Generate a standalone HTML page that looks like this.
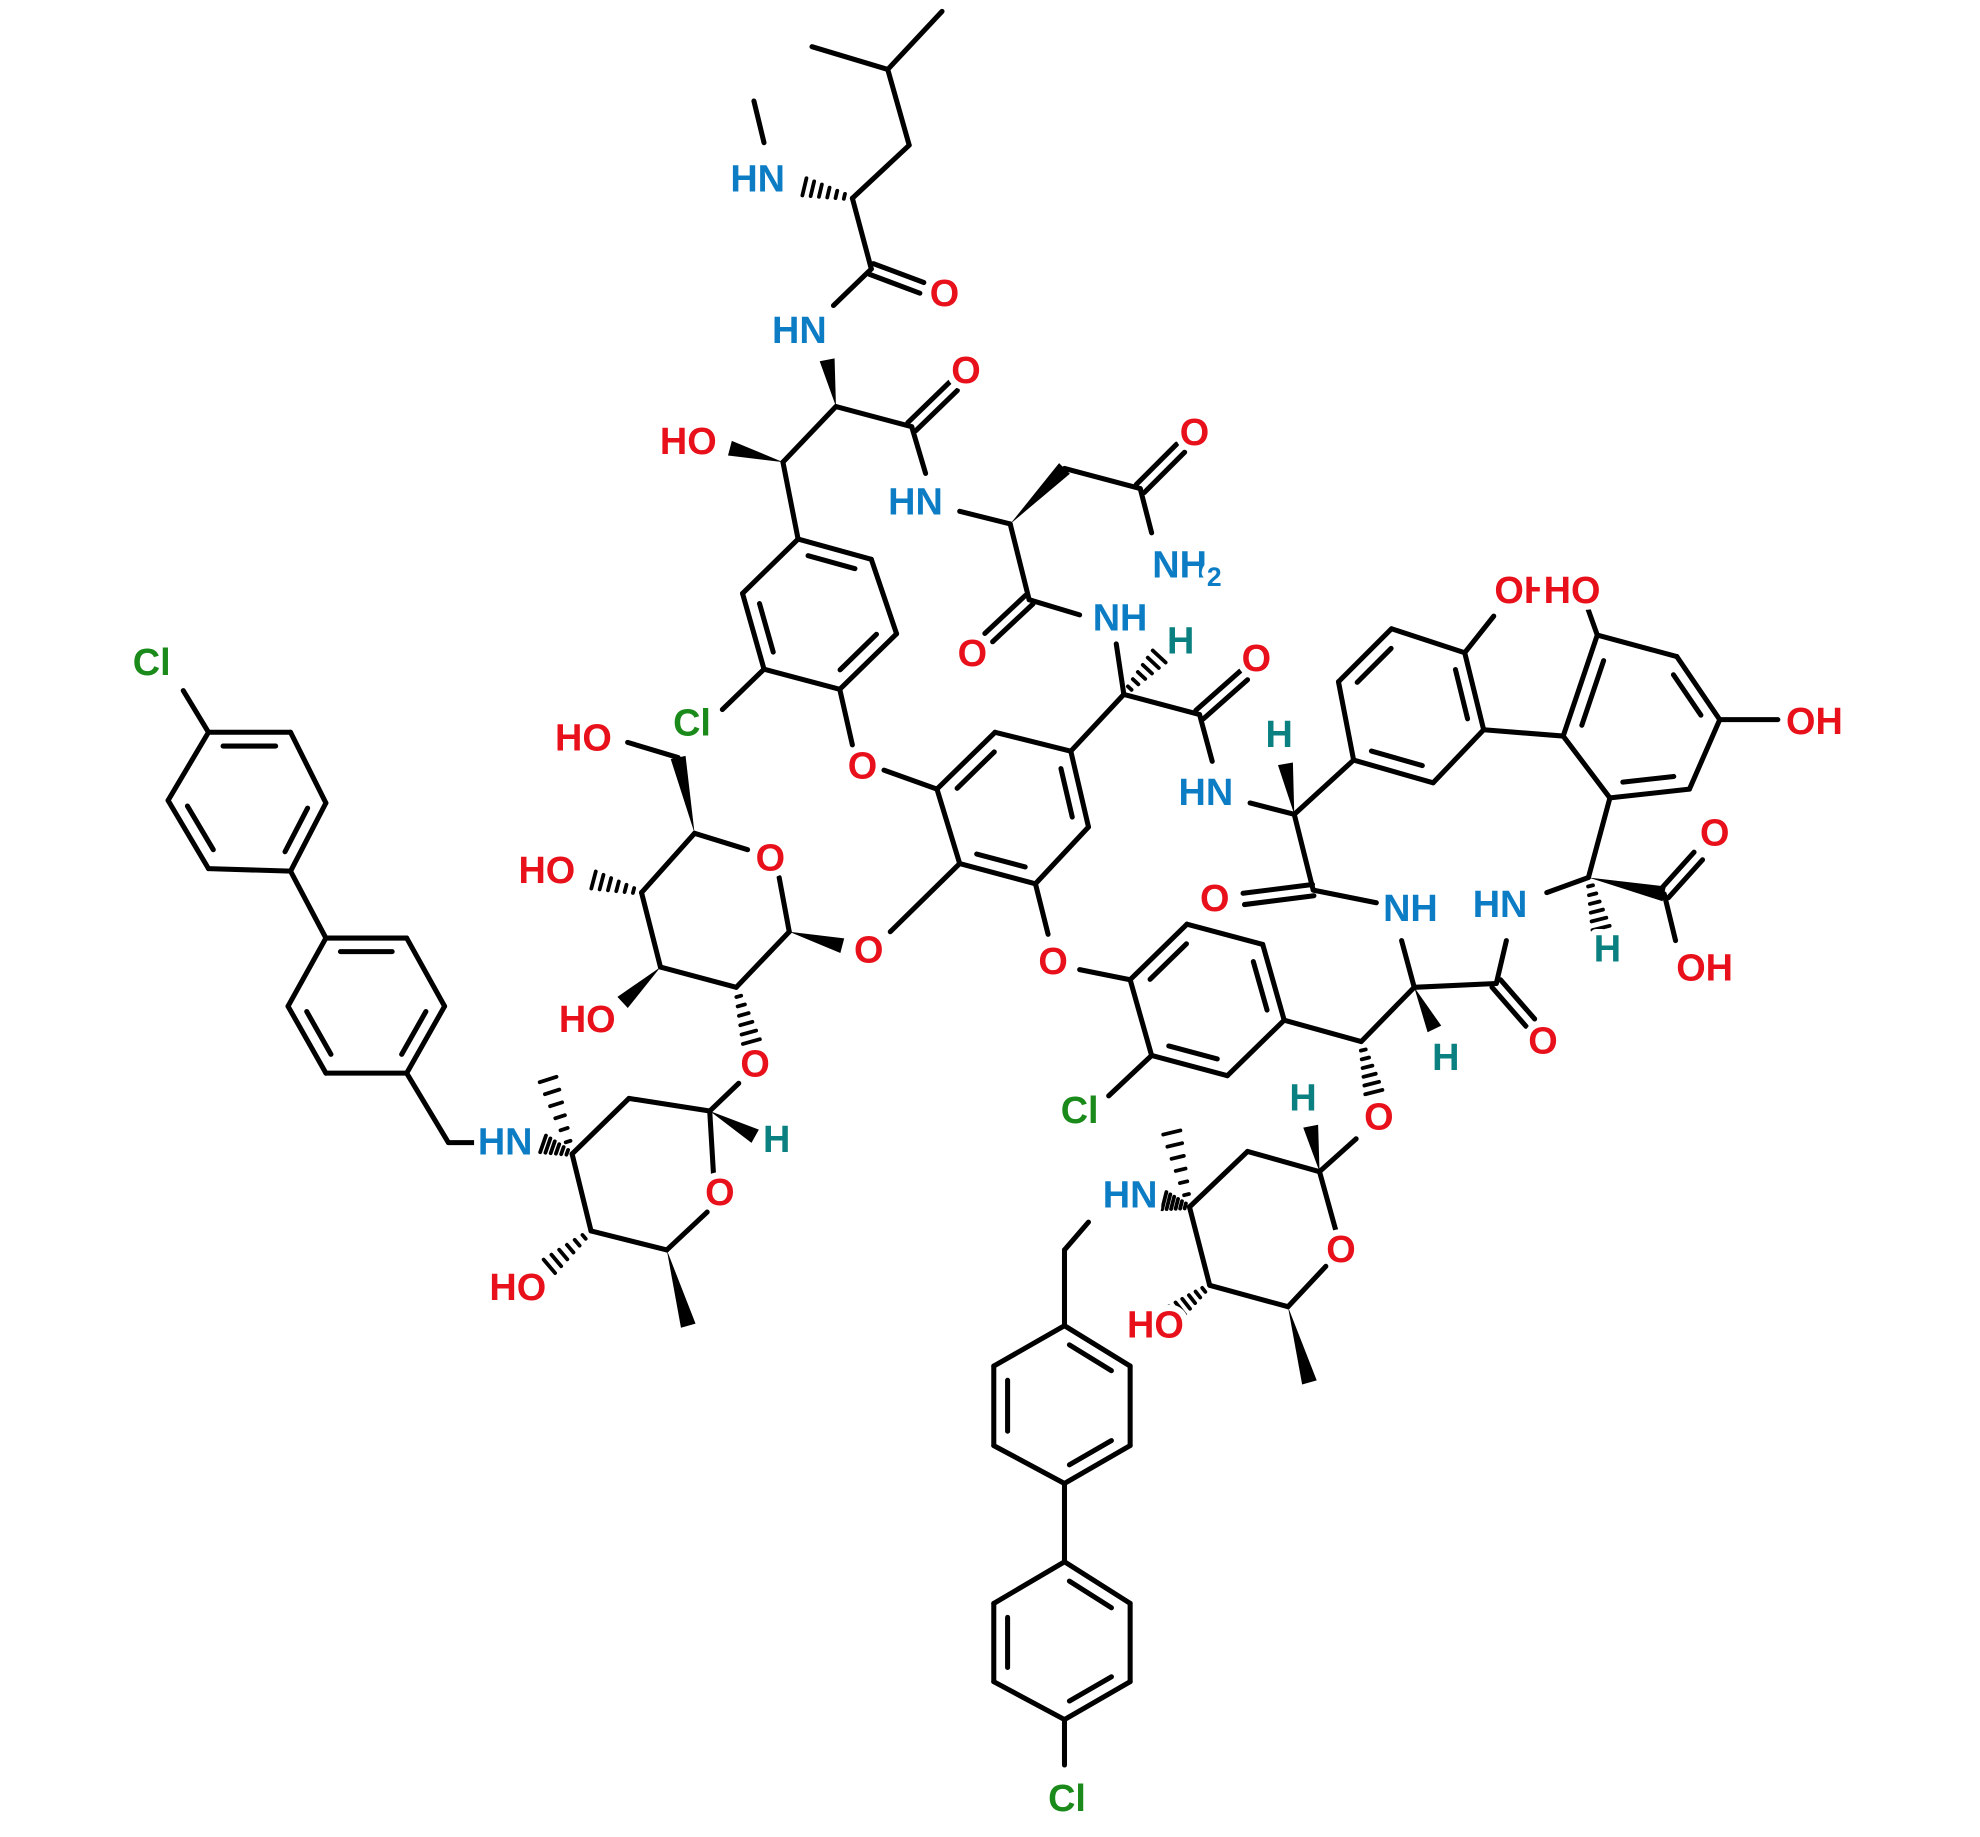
<!DOCTYPE html>
<html><head><meta charset="utf-8">
<style>
html,body{margin:0;padding:0;background:#fff;}
svg{display:block;}
text{font-family:"Liberation Sans",sans-serif;font-weight:bold;font-size:30px;paint-order:stroke;stroke:#fff;stroke-width:10px;stroke-linejoin:round;}
.O{fill:#e8101a}.N{fill:#0c7cc4}.C{fill:#1a8a1a}.H{fill:#0a8080}
</style></head><body>
<svg id="s" width="1980" height="1837" viewBox="0 0 1568 1455" xmlns="http://www.w3.org/2000/svg">
<g id="b" stroke="#000" stroke-width="4" stroke-linecap="round" fill="none"></g>
<g id="w" fill="#000"></g>
<g id="t"></g>
</svg>
<script>
const NS="http://www.w3.org/2000/svg";
const B=document.getElementById('b'),W=document.getElementById('w'),T=document.getElementById('t');
function L(x1,y1,x2,y2,extra){const l=document.createElementNS(NS,'line');l.setAttribute('x1',x1);l.setAttribute('y1',y1);l.setAttribute('x2',x2);l.setAttribute('y2',y2);if(extra)for(const k in extra)l.setAttribute(k,extra[k]);B.appendChild(l);}
function D(x1,y1,x2,y2){
 const dx=x2-x1,dy=y2-y1,len=Math.hypot(dx,dy),nx=-dy/len*4.5,ny=dx/len*4.5;
 L(x1+nx,y1+ny,x2+nx,y2+ny);L(x1-nx,y1-ny,x2-nx,y2-ny);}
function ring(p,dbl){let cx=0,cy=0;p.forEach(q=>{cx+=q[0];cy+=q[1]});cx/=6;cy/=6;
 for(let i=0;i<6;i++){const a=p[i],b=p[(i+1)%6];L(a[0],a[1],b[0],b[1]);
  if(dbl.includes(i)){const f=0.8;let ax=cx+(a[0]-cx)*f,ay=cy+(a[1]-cy)*f,bx=cx+(b[0]-cx)*f,by=cy+(b[1]-cy)*f;
   const mx=(bx-ax)*0.1,my=(by-ay)*0.1;L(ax+mx,ay+my,bx-mx,by-my);}}}
function WB(x1,y1,x2,y2){const dx=x2-x1,dy=y2-y1,len=Math.hypot(dx,dy),nx=-dy/len*6,ny=dx/len*6;
 const p=document.createElementNS(NS,'polygon');p.setAttribute('points',`${x1},${y1} ${x2+nx},${y2+ny} ${x2-nx},${y2-ny}`);W.appendChild(p);}
function WH(x1,y1,x2,y2){const n=6;const dx=x2-x1,dy=y2-y1,len=Math.hypot(dx,dy),ux=-dy/len,uy=dx/len;
 for(let i=1;i<=n;i++){const t=i/n,x=x1+dx*t,y=y1+dy*t,h=1+6*t;L(x+ux*h,y+uy*h,x-ux*h,y-uy*h,{'stroke-width':3});}}
function X(x,y,s,c,sub){const t=document.createElementNS(NS,'text');t.setAttribute('x',x);t.setAttribute('y',y);t.setAttribute('text-anchor','middle');t.setAttribute('dominant-baseline','central');t.setAttribute('class',c);t.textContent=s;
 if(sub){const ts=document.createElementNS(NS,'tspan');ts.setAttribute('font-size','21');ts.setAttribute('dy','9');ts.textContent=sub;t.appendChild(ts);}
 T.appendChild(t);}
// leucine
L(643,37,703,55);L(703,55,746,9);L(703,55,720,115);L(720,115,675,157);
L(597,80,605,113);WH(675,157,637,148);
L(675,157,690,213);D(690,213,730,228);L(690,213,660,242);
WB(662,322,655,285);
L(662,322,722,338);D(722,338,755,306);L(662,322,620,366);WB(620,366,578,355);
L(722,338,733,375);L(760,405,800,415);
WB(800,415,843,371);L(843,371,903,387);D(903,387,935,355);L(903,387,912,422);
L(800,415,815,475);D(815,475,783,505);L(815,475,855,487);
L(884,510,890,550);WH(890,550,918,520);
L(890,550,950,566);D(950,566,985,535);L(950,566,960,603);
L(890,550,848,595);
ring([[848,595],[862,655],[820,700],[760,684],[742,625],[788,580]],[0,2,4]);
L(742,625,700,610);L(675,590,665,546);
L(760,684,705,738);
L(820,700,830,740);L(855,768,895,776);
ring([[632,427],[690,443],[710,502],[665,546],[605,530],[588,470]],[0,2,4]);
L(605,530,572,562);L(632,427,620,366);
// glucose
L(550,660,592,673);L(617,695,625,738);L(625,738,583,782);L(583,782,523,766);L(523,766,508,707);L(508,707,550,660);
WB(550,660,537,600);L(537,600,497,588);WH(508,707,470,697);WB(523,766,493,794);
WB(625,738,667,749);WH(583,782,595,825);
L(585,858,562,880);
// vancosamine 1
L(562,880,498,870);L(498,870,453,914);L(453,914,468,975);L(468,975,528,990);L(528,990,560,960);L(565,930,562,880);
WB(562,880,598,900);WH(453,914,434,855);WH(453,914,430,906);WH(468,975,435,1003);WB(528,990,545,1050);
L(378,905,355,905);L(355,905,322,850);
ring([[322,850],[352,797],[322,743],[258,743],[228,797],[258,850]],[0,2,4]);
ring([[230,690],[258,636],[230,580],[165,580],[133,634],[165,688]],[0,2,4]);
L(258,743,230,690);L(165,580,145,547);
// lower right ring with Cl
ring([[895,776],[940,732],[1000,748],[1017,808],[972,852],[912,836]],[0,2,4]);
L(912,836,878,868);
L(1017,808,1078,825);WH(1078,825,1088,865);
L(1078,825,1120,782);WB(1120,782,1136,815);
L(1120,782,1110,745);L(1120,782,1185,779);D(1185,779,1212,810);L(1185,779,1193,745);
L(1090,715,1040,705);D(1040,705,985,712);L(1040,705,1025,645);WB(1025,645,1018,605);
L(990,636,1025,645);L(1025,645,1072,602);
ring([[1072,602],[1135,620],[1175,578],[1160,517],[1102,498],[1060,540]],[0,2,4]);
L(1160,517,1183,488);L(1175,578,1238,583);
ring([[1238,583],[1275,632],[1338,625],[1362,570],[1328,520],[1265,503]],[1,3,5]);
L(1265,503,1255,475);L(1362,570,1408,570);
L(1275,632,1258,695);L(1225,707,1258,695);WH(1258,695,1268,735);
WB(1258,695,1318,708);D(1318,708,1345,678);L(1318,708,1327,745);
// vancosamine 2
L(1074,902,1045,928);
L(1045,928,988,912);L(988,912,942,956);L(942,956,958,1018);L(958,1018,1020,1035);L(1020,1035,1050,1003);L(1058,975,1045,928);
WB(1045,928,1038,892);WH(942,956,928,897);WH(942,956,922,951);WH(958,1018,930,1040);WB(1020,1035,1037,1095);
L(862,968,843,990);L(843,990,843,1050);
ring([[843,1050],[895,1082],[895,1145],[843,1175],[787,1145],[787,1082]],[0,2,4]);
L(843,1175,843,1237);
ring([[843,1237],[895,1270],[895,1332],[843,1362],[787,1332],[787,1270]],[0,2,4]);
L(843,1362,843,1398);
// labels
X(600,142,'HN','N');X(748,233,'O','O');X(633,262,'HN','N');X(765,294,'O','O');X(545,350,'HO','O');
X(725,398,'HN','N');X(946,343,'O','O');X(940,448,'NH','N','2');X(770,518,'O','O');X(887,490,'NH','N');X(935,508,'H','H');
X(995,522,'O','O');X(955,628,'HN','N');X(548,573,'Cl','C');X(683,607,'O','O');X(688,753,'O','O');X(834,762,'O','O');
X(462,585,'HO','O');X(610,680,'O','O');X(433,690,'HO','O');X(465,808,'HO','O');X(598,843,'O','O');X(615,903,'H','H');
X(570,945,'O','O');X(400,905,'HN','N');X(410,1020,'HO','O');X(120,525,'Cl','C');
X(855,880,'Cl','C');X(1092,885,'O','O');X(1145,838,'H','H');X(1117,720,'NH','N');X(1222,825,'O','O');X(1188,717,'HN','N');
X(962,712,'O','O');X(1013,582,'H','H');X(1206,468,'OH','O');X(1245,468,'HO','O');X(1437,572,'OH','O');
X(1358,660,'O','O');X(1350,767,'OH','O');X(1273,752,'H','H');
X(1032,870,'H','H');X(895,947,'HN','N');X(915,1050,'HO','O');X(1062,990,'O','O');X(845,1425,'Cl','C');
</script>
</body></html>
